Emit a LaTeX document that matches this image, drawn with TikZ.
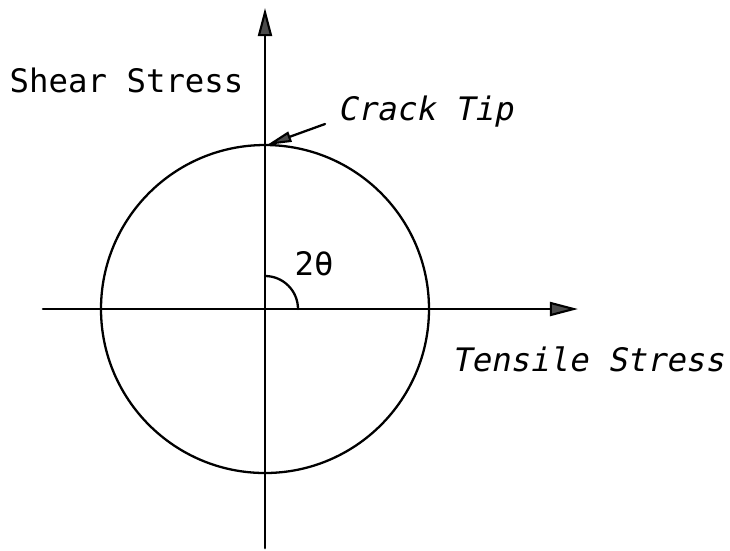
\documentclass[tikz,border=0pt]{standalone}
\usepackage{fontspec}
\setmonofont{DejaVu Sans Mono}
\newfontfamily\slantmono{DejaVu Sans Mono}[FakeSlant=0.2]
\usetikzlibrary{arrows.meta}

\begin{document}
\begin{tikzpicture}[
			x=0.01cm, y=0.01cm,
			every node/.style={font=\ttfamily\fontsize{9.2}{11}\selectfont, inner sep=0pt, anchor=base west},
			tilted/.style={font=\slantmono\fontsize{9.2}{11}\selectfont},
			axis/.style={line width=0.75pt},
			head/.style={-{Triangle[length=8pt, width=4pt, fill=black!70, line width=0.6pt]}},
			line cap=round,
			line join=round
			]
			\useasboundingbox[fill=white] (-265,-241) rectangle (465,309);
			
			% Mohr circle
			\coordinate (o) at (0,0);
			\draw[line width=0.65pt] (o) circle[radius=164];
			
			% Axes
			\draw[axis, head] (0,-239) -- (0,301);
			\draw[axis, head] (-222,0) -- (313,0);
			
			% Angle
			\draw[line width=0.65pt] (33,0) arc[start angle=0, end angle=90, radius=33];
			\node (angle) at (29,34) {2θ};
			
			% Labels
			\node (shear) at (-256,217) {Shear Stress};
			\node[tilted] (tensile) at (186,-62) {Tensile Stress};
			\node[tilted] (crack) at (72,189) {Crack Tip};
			
			% Crack tip arrow
			\coordinate (tip) at (2,164);
			\draw[line width=0.65pt, -{Triangle[length=7pt, width=3pt, fill=black!70, line width=0.6pt]}] ([shift={(-12,-4)}]crack.base west) -- (tip);
		\end{tikzpicture}
\end{document}
